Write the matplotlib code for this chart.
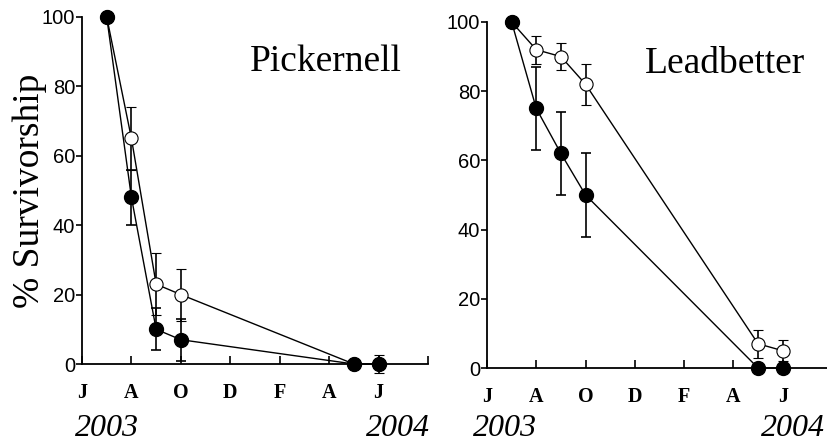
import numpy as np
import matplotlib.pyplot as plt

# months since June 2003
months = [1, 2, 3, 4, 11, 12]
tick_pos = [0, 2, 4, 6, 8, 10, 12, 14]
tick_lab = ['J', 'A', 'O', 'D', 'F', 'A', 'J', '']

# Pickernell
pk_open = [100, 65, 23, 20, 0, 0]
pk_open_err = [0, 9, 9, 7.5, 0, 2.5]
pk_fill = [100, 48, 10, 7, 0, 0]
pk_fill_err = [0, 8, 6, 6, 0, 0]

# Leadbetter
lb_open = [100, 92, 90, 82, 7, 5]
lb_open_err = [0, 4, 4, 6, 4, 3]
lb_fill = [100, 75, 62, 50, 0, 0]
lb_fill_err = [0, 12, 12, 12, 0, 0]

serif = 'Liberation Serif'
sans = 'Liberation Sans'

fig = plt.figure(figsize=(8.28, 4.43), dpi=100)
ax1 = fig.add_axes([82/828, 1-364/443, 346/828, 347/443])
ax2 = fig.add_axes([487/828, 1-368/443, 345/828, 346/443])


def panel(ax, op, ope, fi, fie, title, tx, ty):
    ax.errorbar(months, op, yerr=ope, color='black', lw=1, elinewidth=1.2,
                capsize=3.5, capthick=1.2, marker='o', mfc='white', mec='black',
                mew=0.8, ms=9.5, zorder=3, clip_on=False)
    ax.errorbar(months, fi, yerr=fie, color='black', lw=1, elinewidth=1.2,
                capsize=3.5, capthick=1.2, marker='o', mfc='black', mec='black',
                ms=10, zorder=4, clip_on=False)
    ax.set_xlim(0, 14)
    ax.set_ylim(0, 100)
    for s in ['top', 'right']:
        ax.spines[s].set_visible(False)
    for s in ['left', 'bottom']:
        ax.spines[s].set_linewidth(1.3)
    ax.set_yticks([0, 20, 40, 60, 80, 100])
    ax.set_xticks(tick_pos)
    ax.set_xticklabels(tick_lab, fontfamily=serif, fontsize=14.5, fontweight='bold')
    ax.tick_params(axis='x', direction='in', length=6, width=1.2, pad=14)
    ax.tick_params(axis='y', direction='out', length=4, width=1.2, pad=1,
                   labelsize=14.5)
    for lab in ax.get_yticklabels():
        lab.set_fontfamily(sans)
    ax.text(tx, ty, title, transform=ax.transAxes, fontfamily=serif,
            fontsize=27, ha='center', va='center')


panel(ax1, pk_open, pk_open_err, pk_fill, pk_fill_err, 'Pickernell', 0.705, 0.87)
panel(ax2, lb_open, lb_open_err, lb_fill, lb_fill_err, 'Leadbetter', 0.69, 0.88)

ax1.set_ylabel('% Survivorship', fontfamily=serif, fontsize=27, labelpad=-4)

# year labels
yy = 1 - 436/443
year_kw = dict(fontfamily=serif, fontsize=23, style='italic', va='baseline')
fig.text(75/828, yy, '2003', ha='left', **year_kw)
fig.text(430/828, yy, '2004', ha='right', **year_kw)
fig.text(473/828, yy, '2003', ha='left', **year_kw)
fig.text(825/828, yy, '2004', ha='right', **year_kw)

fig.savefig('out.png', dpi=100)
